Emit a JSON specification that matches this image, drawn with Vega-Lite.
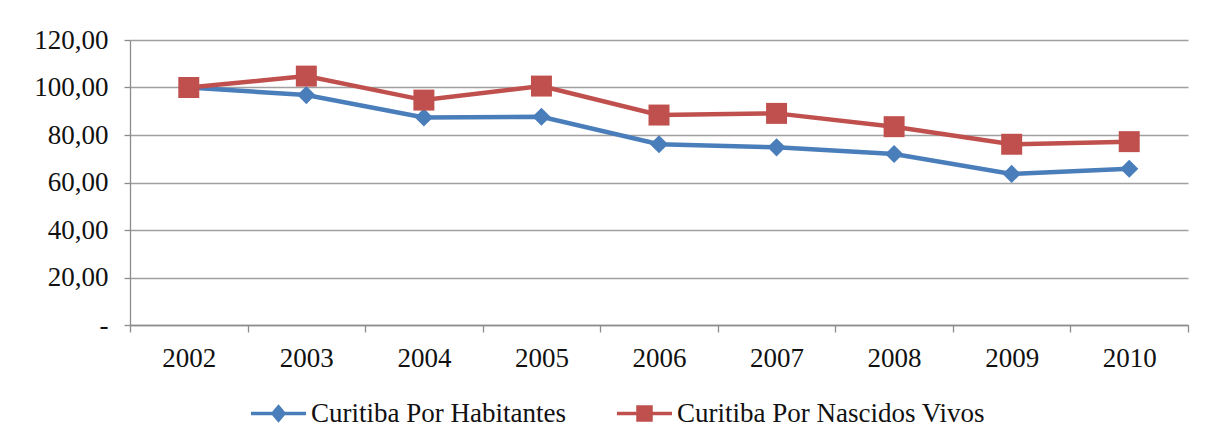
{
  "$schema": "https://vega.github.io/schema/vega-lite/v6.json",
  "width": 1058,
  "height": 285,
  "padding": {"left": 130, "top": 40, "right": 18, "bottom": 117},
  "autosize": {"type": "none"},
  "background": "white",
  "title": {"text": "100).", "anchor": "start", "frame": "group", "baseline": "alphabetic", "offset": 32, "dx": -128, "font": "Liberation Serif", "fontSize": 27, "fontWeight": "normal", "color": "#111"},
  "config": {
    "view": {"stroke": null},
    "font": "Liberation Serif",
    "axis": {"labelFont": "Liberation Serif", "labelFontSize": 27, "labelColor": "#111", "domainColor": "#8c8c8c", "tickColor": "#8c8c8c", "gridColor": "#a0a0a0", "gridWidth": 1.3, "domainWidth": 1.3, "tickWidth": 1.3},
    "legend": {"labelFont": "Liberation Serif", "labelFontSize": 27, "labelColor": "#111", "labelLimit": 0}
  },
  "data": {"values": [
    {"ano": "2002", "serie": "Curitiba Por Habitantes", "valor": 100.0},
    {"ano": "2003", "serie": "Curitiba Por Habitantes", "valor": 96.8},
    {"ano": "2004", "serie": "Curitiba Por Habitantes", "valor": 87.4},
    {"ano": "2005", "serie": "Curitiba Por Habitantes", "valor": 87.7},
    {"ano": "2006", "serie": "Curitiba Por Habitantes", "valor": 76.1},
    {"ano": "2007", "serie": "Curitiba Por Habitantes", "valor": 74.8},
    {"ano": "2008", "serie": "Curitiba Por Habitantes", "valor": 72.0},
    {"ano": "2009", "serie": "Curitiba Por Habitantes", "valor": 63.6},
    {"ano": "2010", "serie": "Curitiba Por Habitantes", "valor": 65.8},
    {"ano": "2002", "serie": "Curitiba Por Nascidos Vivos", "valor": 100.0},
    {"ano": "2003", "serie": "Curitiba Por Nascidos Vivos", "valor": 104.8},
    {"ano": "2004", "serie": "Curitiba Por Nascidos Vivos", "valor": 94.7},
    {"ano": "2005", "serie": "Curitiba Por Nascidos Vivos", "valor": 100.6},
    {"ano": "2006", "serie": "Curitiba Por Nascidos Vivos", "valor": 88.4},
    {"ano": "2007", "serie": "Curitiba Por Nascidos Vivos", "valor": 89.1},
    {"ano": "2008", "serie": "Curitiba Por Nascidos Vivos", "valor": 83.5},
    {"ano": "2009", "serie": "Curitiba Por Nascidos Vivos", "valor": 76.1},
    {"ano": "2010", "serie": "Curitiba Por Nascidos Vivos", "valor": 77.2}
  ]},
  "encoding": {
    "x": {"field": "ano", "type": "ordinal", "bandPosition": 0.5,
      "scale": {"type": "band", "paddingInner": 0, "paddingOuter": 0},
      "axis": {"title": null, "labelAngle": 0, "tickBand": "extent", "tickSize": 7, "labelPadding": 13, "grid": false}},
    "y": {"field": "valor", "type": "quantitative",
      "scale": {"domain": [0, 120], "nice": false},
      "axis": {"title": null, "values": [0, 20, 40, 60, 80, 100, 120], "tickSize": 6, "labelPadding": 16, "grid": true,
        "labelExpr": "datum.value == 0 ? '-' : replace(format(datum.value, '.2f'), '.', ',')"}}
  },
  "layer": [
    {"mark": {"type": "line", "strokeWidth": 4.5},
      "encoding": {"color": {"field": "serie", "type": "nominal",
        "scale": {"domain": ["Curitiba Por Habitantes", "Curitiba Por Nascidos Vivos"], "range": ["#4a7ebb", "#c0504d"]},
        "legend": {
        "orient": "none", "legendX": 135, "legendY": 360, "direction": "horizontal", "title": null,
        "labelFont": "Liberation Serif", "labelFontSize": 27, "labelColor": "#111", "labelLimit": 0,
        "symbolSize": 400, "symbolStrokeWidth": 3.5, "labelOffset": 19, "columnPadding": 44,
        "encode": {
          "symbols": {"update": {
          "shape": {"signal": "datum.value === 'Curitiba Por Habitantes' ? 'M-2.75,0H2.75M0,-0.65L0.55,0L0,0.65L-0.55,0Z' : 'M-2.75,0H2.75M-0.65,-0.65H0.65V0.65H-0.65Z'"},
          "fillOpacity": {"value": 1},
          "fill": {"signal": "datum.value === 'Curitiba Por Habitantes' ? '#4a7ebb' : '#c0504d'"},
          "stroke": {"signal": "datum.value === 'Curitiba Por Habitantes' ? '#4a7ebb' : '#c0504d'"}
        }}}
      }}}},
    {"transform": [{"filter": "datum.serie === 'Curitiba Por Habitantes'"}],
      "mark": {"type": "point", "filled": true, "opacity": 1, "size": 330, "shape": "diamond", "color": "#4a7ebb"}},
    {"transform": [{"filter": "datum.serie === 'Curitiba Por Nascidos Vivos'"}],
      "mark": {"type": "point", "filled": true, "opacity": 1, "size": 440, "shape": "square", "color": "#c0504d"}}
  ]
}
